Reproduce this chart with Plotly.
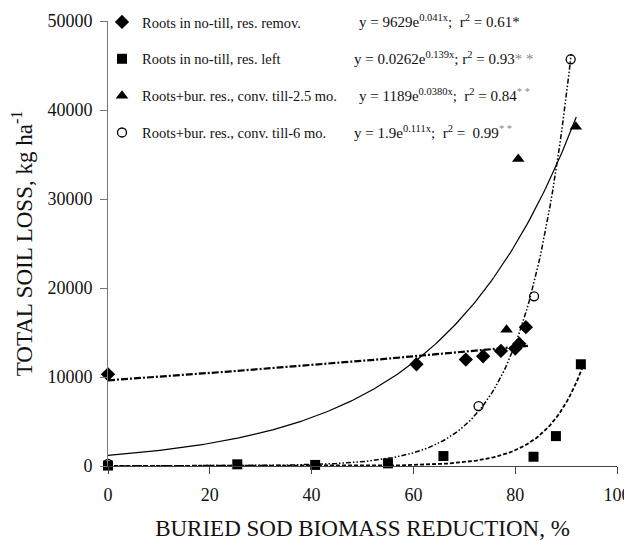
import numpy as np
import plotly.graph_objects as go

# ---- data ----
names = ["Roots in no-till, res. remov.",
         "Roots in no-till, res. left",
         "Roots+bur. res., conv. till-2.5 mo.",
         "Roots+bur. res., conv. till-6 mo."]

diam_x = [0, 60.6, 70.3, 73.7, 77.2, 80.0, 80.8, 82.1]
diam_y = [10300, 11430, 11960, 12330, 12930, 13190, 13750, 15600]

sq_x = [0, 25.4, 40.7, 55.0, 65.9, 83.6, 88.0, 92.9]
sq_y = [50, 190, 120, 300, 1120, 1040, 3360, 11430]

tri_x = [78.3, 80.6, 91.9]
tri_y = [15320, 34490, 38110]

circ_x = [0, 72.8, 83.7, 90.9]
circ_y = [250, 6730, 19060, 45700]

# fitted exponential trend lines y = a*exp(b*x) (as drawn)
fit_a = [9629, 0.0262, 1189, 1.9]
fit_b = [0.0041, 0.139, 0.0380, 0.111]
fit_xmax = [82.5, 93.5, 92.0, 91.0]

eq_labels = [
    "y = 9629e<sup>0.041x</sup>;  r<sup>2</sup> = 0.61*",
    "y = 0.0262e<sup>0.139x</sup>; r<sup>2</sup> = 0.93<span style='color:#888'>* *</span>",
    "y = 1189e<sup>0.0380x</sup>;  r<sup>2</sup> = 0.84<sup><span style='color:#888'>* *</span></sup>",
    "y = 1.9e<sup>0.111x</sup>;  r<sup>2</sup> =  0.99<sup><span style='color:#888'>* *</span></sup>",
]

x_ticks = [0, 20, 40, 60, 80, 100]
y_ticks = [0, 10000, 20000, 30000, 40000, 50000]
y_ticktext = ["0", "10000", "20000", "30000", "40000", "50000"]

FONT = "Liberation Serif, Times New Roman, serif"

fig = go.Figure()

line_styles = [
    dict(color="black", width=2.2, dash="7px,2px,2px,2px"),
    dict(color="black", width=1.8, dash="4px,2px"),
    dict(color="black", width=1.2),
    dict(color="black", width=1.5, dash="5px,2px,1.5px,2px,1.5px,2px"),
]
for a, b, xm, ls in zip(fit_a, fit_b, fit_xmax, line_styles):
    xs = np.linspace(0, xm, 200)
    fig.add_trace(go.Scatter(x=xs, y=a * np.exp(b * xs), mode="lines",
                             line=ls, showlegend=False, hoverinfo="skip"))

markers = [
    (diam_x, diam_y, dict(symbol="diamond", size=11, color="black")),
    (sq_x, sq_y, dict(symbol="square", size=10, color="black")),
    (tri_x, tri_y, dict(symbol="triangle-up", size=11, color="black")),
    (circ_x, circ_y, dict(symbol="circle-open", size=9, color="black",
                          line=dict(width=1.3, color="black"))),
]
for i, (xs, ys, mk) in enumerate(markers):
    fig.add_trace(go.Scatter(x=xs, y=ys, mode="markers", marker=mk,
                             name=names[i], legendgroup=f"g{i}",
                             cliponaxis=False))

# figure is drawn 8px in from the page corner, so size it to fit the window
W, H = 624, 533
L, R, T, B = 100, 15, 13, 75
pw, ph = W - L - R, H - T - B
rows_y = [13, 50, 87, 124]          # figure pixels
eq_x = [349, 344, 349, 344]
for lab, py, px in zip(eq_labels, rows_y, eq_x):
    fig.add_annotation(text=lab, xref="paper", yref="paper",
                       x=(px - L) / pw, y=1 - (py - T) / ph,
                       xanchor="left", yanchor="middle", showarrow=False,
                       font=dict(family=FONT, size=15, color="#111"))

fig.update_layout(
    width=W, height=H,
    margin=dict(l=L, r=R, t=T, b=B, autoexpand=False),
    plot_bgcolor="white", paper_bgcolor="white",
    font=dict(family=FONT, color="#111"),
    legend=dict(x=(94 - L) / pw, y=1 - (-2 - T) / ph, xanchor="left", yanchor="top",
                font=dict(family=FONT, size=14.5, color="#111"),
                tracegroupgap=15, itemwidth=30, bgcolor="rgba(0,0,0,0)"),
    xaxis=dict(range=[0, 100], tickvals=x_ticks, showgrid=False, zeroline=False,
               showline=True, linecolor="#444", linewidth=1, automargin=False,
               ticks="outside", ticklen=7, tickcolor="#444",
               ticklabelstandoff=5,
               tickfont=dict(family=FONT, size=18, color="#111"),
               title=dict(text="BURIED SOD BIOMASS REDUCTION, %",
                          font=dict(family=FONT, size=23, color="#111"),
                          standoff=18)),
    yaxis=dict(range=[0, 50000], tickvals=y_ticks, ticktext=y_ticktext,
               showgrid=False, zeroline=False, automargin=False,
               showline=True, linecolor="#777", linewidth=1,
               ticks="outside", ticklen=7, tickcolor="#777",
               ticklabelstandoff=4,
               tickfont=dict(family=FONT, size=18, color="#111"),
               title=dict(text="TOTAL SOIL LOSS, kg ha<sup>-1</sup>",
                          font=dict(family=FONT, size=23, color="#111"),
                          standoff=10)),
)

fig.write_html("out.html")
